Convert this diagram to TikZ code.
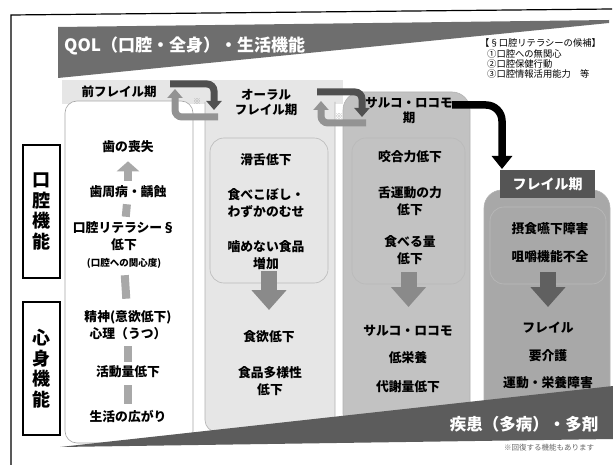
\documentclass[tikz,border=0pt]{standalone}
\usepackage{fontspec}
\setmainfont{Noto Sans CJK JP}
\usetikzlibrary{arrows.meta}
\newcommand\fsz[2]{\fontsize{#1}{#2}\selectfont}
\definecolor{titlec}{HTML}{6E6E6E}
\definecolor{bandc}{HTML}{5C5C5C}
\definecolor{cA}{HTML}{E6E6E6}
\definecolor{cB}{HTML}{C2C2C2}
\definecolor{cC}{HTML}{A8A8A8}
\definecolor{cH}{HTML}{555555}
\definecolor{arrA}{HTML}{A8A8A8}
\definecolor{arrB}{HTML}{8A8A8A}
\definecolor{arrC}{HTML}{606060}
\definecolor{cycD}{HTML}{505050}
\definecolor{cycL}{HTML}{939393}
\tikzset{
  txt/.style={font=\bfseries\fsz{12.8}{17}},
  hdr/.style={font=\bfseries\fsz{12.5}{15}},
  lgd/.style={font=\fsz{9.3}{10}, anchor=west},
  sidebox/.style={draw, line width=2.5pt, minimum width=37, minimum height=133, font=\bfseries\fsz{18}{20.5}},
  innerbox/.style={draw=gray!55, line width=0.6pt, rounded corners=14},
  downarr/.style={line width=16pt, -{Triangle[width=34pt,length=20pt]}},
  barst/.style={line width=8pt, arrA},
  cyc/.style={line width=7pt, rounded corners=7, -{Triangle[width=15pt,length=9pt]}},
  notemark/.style={font=\fsz{8}{9}, text=gray!70}
}
\begin{document}
\begin{tikzpicture}[x=1pt,y=-1pt, every node/.style={inner sep=0pt, align=center}]
\useasboundingbox (0,0) rectangle (613,465);
\fill[white] (0,0) rectangle (613,465);
% outer frame
\draw[line width=1.2pt] (11,465) -- (11,15) -- (612,9);
% title band
\fill[titlec] (58,27) -- (609,20) -- (609,23) -- (58,78) -- cycle;
\node[anchor=west, text=white, font=\bfseries\fsz{17}{20}] (title) at (64,46) {QOL（口腔・全身）・生活機能};
% legend
\node[lgd] (lg1) at (480,43) {【§口腔リテラシーの候補】};
\node[lgd] (lg2) at (487,54) {①口腔への無関心};
\node[lgd] (lg3) at (487,64) {②口腔保健行動};
\node[lgd] (lg4) at (487,74) {③口腔情報活用能力　等};
% header strip
\fill[cA] (62,80) rectangle (343,104);
% column 1
\filldraw[fill=white, draw=gray!70, line width=0.6pt, rounded corners=12] (65,101) rectangle (193,443);
\node[hdr] (h1) at (119,92) {前フレイル期};
% column 2
\fill[cA, rounded corners=12] (205,90) rectangle (335,432);
\draw[gray!60, line width=0.6pt, rounded corners=12] (205,102) -- (205,432) -- (335,432) -- (335,102);
\node[hdr] (h2) at (266,102.5) {オーラル\\フレイル期};
% column 3
\filldraw[fill=cB, draw=gray!60, line width=0.6pt, rounded corners=18] (343,92) rectangle (470,432);
\node[hdr] (h3) at (409,111) {サルコ・ロコモ\\期};
% column 4
\filldraw[fill=cC, draw=gray!60, line width=0.6pt, rounded corners=18] (484,190) rectangle (610,432);
\node[fill=cH, minimum width=95, minimum height=28, text=white, font=\bfseries\fsz{14}{16}] (h4) at (547.5,184) {フレイル期};
% inner boxes
\node[innerbox, minimum width=118, minimum height=145] (in2) at (269,210.5) {};
\node[innerbox, minimum width=113, minimum height=146] (in3) at (408.5,211) {};
\node[innerbox, minimum width=116, minimum height=77] (in4) at (548,245.5) {};
% column 1 texts
\node[txt] (t11) at (128,147) {歯の喪失};
\node[txt] (t12) at (128,192) {歯周病・齲蝕};
\node[txt] (t13) at (124,236.5) {口腔リテラシー§\\低下};
\node[font=\bfseries\fsz{9.5}{11}] (t14) at (124,263) {(口腔への関心度)};
\node[txt] (t15) at (128,325.5) {精神(意欲低下)\\心理（うつ）};
\node[txt] (t16) at (128,372) {活動量低下};
\node[txt] (t17) at (128,417) {生活の広がり};
\draw[barst, shorten <=5pt, -{Triangle[width=22pt,length=10pt]}, shorten >=8pt] (t12) -- (t11);
\draw[barst, shorten <=6pt, shorten >=5pt] (t12) -- (t13);
\draw[barst, shorten <=7pt, shorten >=12pt] (t14) -- (t15);
\draw[barst, shorten <=6pt, shorten >=4pt] (t15) -- (t16);
\draw[barst, shorten <=7pt, shorten >=7pt] (t16) -- (t17);
% column 2 texts
\node[txt] (t21) at (266,160) {滑舌低下};
\node[txt] (t22) at (266,203.5) {食べこぼし・\\わずかのむせ};
\node[txt] (t23) at (266,255) {噛めない食品\\増加};
\node[txt] (t24) at (269,337) {食欲低下};
\node[txt] (t25) at (270,381.5) {食品多様性\\低下};
% column 3 texts
\node[txt] (t31) at (410,157) {咬合力低下};
\node[txt] (t32) at (410,201) {舌運動の力\\低下};
\node[txt] (t33) at (410,250) {食べる量\\低下};
\node[txt] (t34) at (408,331) {サルコ・ロコモ};
\node[txt] (t35) at (408,358) {低栄養};
\node[txt] (t36) at (408,387) {代謝量低下};
% column 4 texts
\node[txt] (t41) at (550,229) {摂食嚥下障害};
\node[txt] (t42) at (550,257) {咀嚼機能不全};
\node[txt] (t43) at (548,328) {フレイル};
\node[txt] (t44) at (548,356) {要介護};
\node[txt] (t45) at (548,383) {運動・栄養障害};
% down arrows
\coordinate (a2) at (269,310);
\coordinate (a3) at (408.5,307);
\coordinate (a4) at (548,307);
\draw[downarr, arrB] ([yshift=12pt]in2.south) -- (a2);
\draw[downarr, arrB] ([yshift=12pt]in3.south) -- (a3);
\draw[downarr, arrC] ([yshift=12pt]in4.south) -- (a4);
% cycle arrows
\coordinate (p1a) at (218,117);
\coordinate (p1b) at (175,89);
\coordinate (p1c) at (170,84);
\coordinate (p1d) at (214,110);
\draw[cyc, cycL] (p1a) -| (p1b);
\draw[cyc, cycD] (p1c) -| (p1d);
\node[notemark] (m1) at (197,102) {※};
\coordinate (p2a) at (366,123);
\coordinate (p2b) at (321,101);
\coordinate (p2c) at (317,92);
\coordinate (p2d) at (362,117);
\draw[cyc, cycL] (p2a) -| (p2b);
\draw[cyc, cycD] (p2c) -| (p2d);
\node[notemark] (m2) at (339,117) {※};
% black arrow
\coordinate (bs) at (452,105);
\coordinate (bt) at (502,169);
\draw[line width=7.5pt, rounded corners=16, -{Triangle[width=20pt,length=13pt]}] (bs) -| (bt);
% side boxes
\node[sidebox] (lb1) at (41.5,211.5) {口\\腔\\機\\能};
\node[sidebox] (lb2) at (41.5,368.5) {心\\身\\機\\能};
% bottom band
\fill[bandc] (60,447) -- (613,386) -- (613,439) -- cycle;
\node[text=white, font=\bfseries\fsz{16.5}{18}] (b1) at (524,424) {疾患（多病）・多剤};
\node[font=\fsz{7.5}{9}, text=gray!80!black] (b2) at (549,448) {※回復する機能もあります};
\end{tikzpicture}
\end{document}
